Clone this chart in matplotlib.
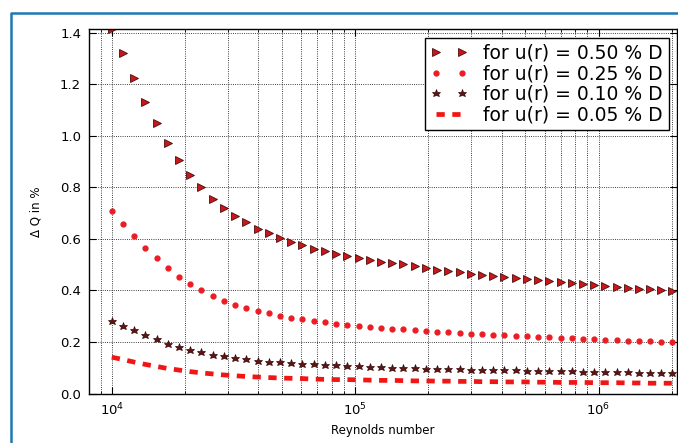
import numpy as np
import matplotlib
matplotlib.use("Agg")
import matplotlib.pyplot as plt
from matplotlib.lines import Line2D
from matplotlib.ticker import LogLocator, NullFormatter

# Reynolds numbers (log spaced, 1e4 .. 2e6)
reynolds = [10000, 11120, 12360, 13740, 15290, 17000, 18900, 21020, 23370, 25990,
            28900, 32140, 35730, 39730, 44180, 49130, 54630, 60750, 67550, 75110,
            83520, 92870, 103270, 114830, 127690, 141990, 157890, 175560, 195220, 217090,
            241400, 268430, 298480, 331900, 369070, 410390, 456340, 507440, 564260, 627440,
            697700, 775820, 862680, 959280, 1066680, 1186110, 1318920, 1466600, 1630810, 1813400,
            2000000]

# Delta Q in % for each u(r)
dq_050 = [1.414, 1.321, 1.224, 1.133, 1.050, 0.972, 0.907, 0.849, 0.800, 0.756,
          0.722, 0.691, 0.664, 0.640, 0.622, 0.604, 0.589, 0.576, 0.563, 0.553,
          0.543, 0.535, 0.527, 0.519, 0.512, 0.505, 0.501, 0.494, 0.487, 0.481,
          0.476, 0.470, 0.465, 0.461, 0.458, 0.454, 0.450, 0.445, 0.441, 0.437,
          0.433, 0.429, 0.425, 0.421, 0.417, 0.415, 0.411, 0.407, 0.404, 0.402,
          0.399]
dq_025 = [0.707, 0.660, 0.612, 0.566, 0.525, 0.486, 0.454, 0.424, 0.400, 0.378,
          0.361, 0.345, 0.332, 0.320, 0.311, 0.302, 0.294, 0.288, 0.281, 0.276,
          0.271, 0.267, 0.263, 0.259, 0.256, 0.252, 0.250, 0.247, 0.243, 0.240,
          0.238, 0.235, 0.232, 0.230, 0.229, 0.227, 0.225, 0.222, 0.220, 0.218,
          0.216, 0.214, 0.212, 0.210, 0.208, 0.207, 0.205, 0.203, 0.202, 0.201,
          0.199]
dq_010 = [0.283, 0.264, 0.245, 0.227, 0.210, 0.194, 0.181, 0.170, 0.160, 0.151,
          0.144, 0.138, 0.133, 0.128, 0.124, 0.121, 0.118, 0.115, 0.113, 0.111,
          0.109, 0.107, 0.105, 0.104, 0.102, 0.101, 0.100, 0.099, 0.097, 0.096,
          0.095, 0.094, 0.093, 0.092, 0.092, 0.091, 0.090, 0.089, 0.088, 0.087,
          0.087, 0.086, 0.085, 0.084, 0.083, 0.083, 0.082, 0.081, 0.081, 0.080,
          0.080]
dq_005 = [0.141, 0.132, 0.122, 0.113, 0.105, 0.097, 0.091, 0.085, 0.080, 0.076,
          0.072, 0.069, 0.066, 0.064, 0.062, 0.060, 0.059, 0.058, 0.056, 0.055,
          0.054, 0.054, 0.053, 0.052, 0.051, 0.051, 0.050, 0.049, 0.049, 0.048,
          0.048, 0.047, 0.047, 0.046, 0.046, 0.045, 0.045, 0.045, 0.044, 0.044,
          0.043, 0.043, 0.043, 0.042, 0.042, 0.042, 0.041, 0.041, 0.040, 0.040,
          0.040]

labels = ["for u(r) = 0.50 % D", "for u(r) = 0.25 % D",
          "for u(r) = 0.10 % D", "for u(r) = 0.05 % D"]
y_ticks = [0.0, 0.2, 0.4, 0.6, 0.8, 1.0, 1.2, 1.4]

plt.rcParams["font.family"] = "DejaVu Sans"

fig = plt.figure(figsize=(6.78, 4.43), dpi=100)
ax = fig.add_axes([0.1320, 0.1117, 0.8665, 0.8221])

ax.plot(reynolds, dq_050, linestyle="none", marker=">", markersize=6,
        markerfacecolor="#c8161a", markeredgecolor="#4a0c0c", markeredgewidth=0.6,
        label=labels[0])
ax.plot(reynolds, dq_025, linestyle="none", marker=".", markersize=7,
        color="#ec1c24", label=labels[1])
ax.plot(reynolds, dq_010, linestyle="none", marker="*", markersize=6.2,
        markerfacecolor="#5c1414", markeredgecolor="#3a0808", markeredgewidth=0.5,
        label=labels[2])
ax.plot(reynolds, dq_005, linestyle="--", linewidth=3.4, color="#f01616",
        dashes=(1.75, 1.6), label=labels[3])

ax.set_xscale("log")
ax.set_xlim(8100, 2.1e6)
ax.set_ylim(0, 1.414)
ax.set_yticks(y_ticks)
ax.set_yticklabels(["%.1f" % t for t in y_ticks])
ax.xaxis.set_minor_locator(LogLocator(base=10, subs=np.arange(2, 10)))
ax.xaxis.set_minor_formatter(NullFormatter())

ax.grid(True, which="major", color="black", linestyle=":", linewidth=0.6)
ax.grid(True, which="minor", axis="x", color="black", linestyle=":", linewidth=0.6)

ax.tick_params(which="both", direction="in", top=True, right=True)
ax.tick_params(which="major", length=5, labelsize=9.5, pad=6)
ax.tick_params(which="minor", length=2.5)
for s in ax.spines.values():
    s.set_linewidth(1.0)

ax.set_xlabel("Reynolds number", fontsize=8.5)
ax.set_ylabel("Δ Q in %", fontsize=8.5)
ax.xaxis.set_label_coords(0.5, -0.085)
ax.yaxis.set_label_coords(-0.08, 0.5)

leg = ax.legend(loc="upper right", numpoints=2, fontsize=13.5, fancybox=False,
                framealpha=1, edgecolor="black", labelspacing=0.09,
                handlelength=2.0, handletextpad=0.82, borderpad=0.3,
                borderaxespad=0.45)
leg.get_frame().set_linewidth(1.0)

# blue frame around the picture (open at right and bottom)
fig.add_artist(Line2D([11 / 678, 11 / 678, 1.0], [0.0, 1 - 12.5 / 443, 1 - 12.5 / 443],
                      transform=fig.transFigure, color="#1f78b4", linewidth=1.8))

fig.savefig("out.png", dpi=100)
